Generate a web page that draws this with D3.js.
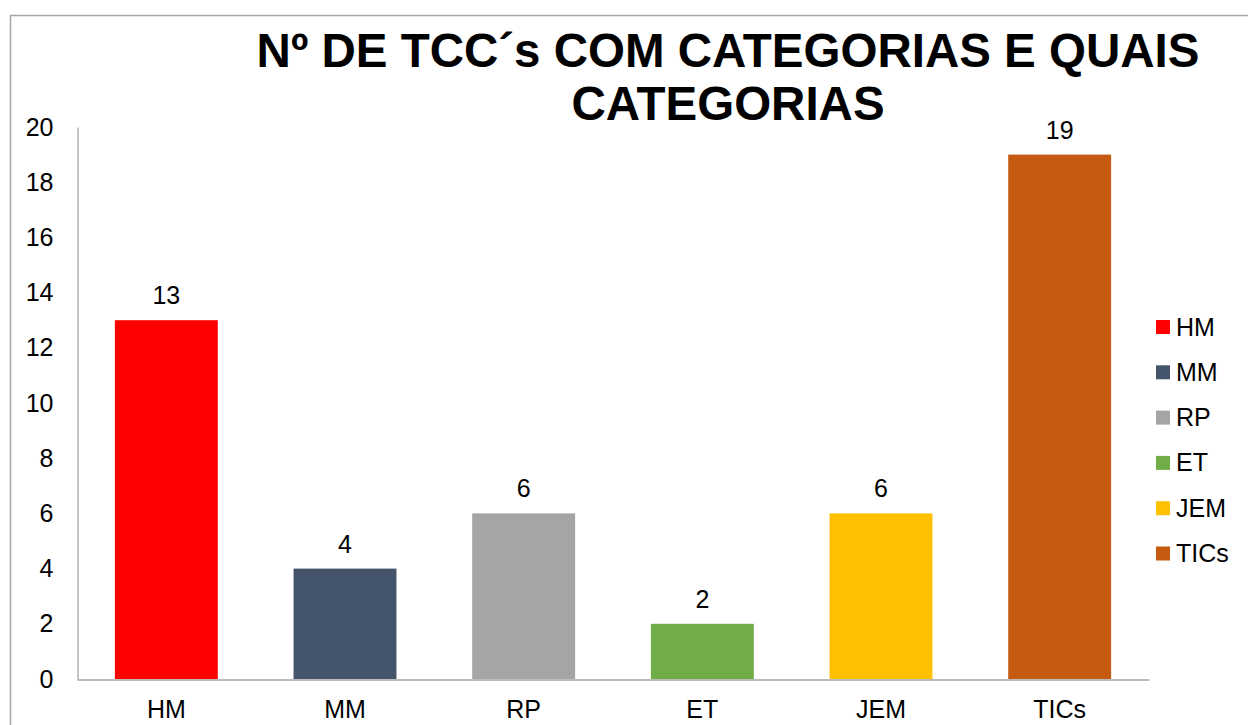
<!DOCTYPE html>
<html>
<head>
<meta charset="utf-8">
<script src="https://cdn.jsdelivr.net/npm/d3@7"></script>
<style>
  body { margin: 0; background: white; }
  text { font-family: "Liberation Sans", Arial, sans-serif; fill: #000; }
</style>
</head>
<body>
<div id="chart"></div>
<script>
// categories and counts of TCCs
const categories = ["HM", "MM", "RP", "ET", "JEM", "TICs"];
const counts = [13, 4, 6, 2, 6, 19];
const colors = ["#ff0000", "#44546a", "#a5a5a5", "#70ad47", "#ffc000", "#c55a11"];
const yTicks = [0, 2, 4, 6, 8, 10, 12, 14, 16, 18, 20];
const titleLines = ["Nº DE TCC´s COM CATEGORIAS E QUAIS", "CATEGORIAS"];

const width = 1248,
    height = 725;

const svg = d3.select("#chart")
    .append("svg")
    .attr("width", width)
    .attr("height", height);

// outer chart border (right and bottom run off the page)
svg.append("rect")
    .attr("x", 10.5)
    .attr("y", 15.5)
    .attr("width", 1260)
    .attr("height", 760)
    .attr("fill", "none")
    .attr("stroke", "#a6a6a6")
    .attr("stroke-width", 1.5);

const x = d3.scaleBand()
    .domain(categories)
    .range([77, 1149])
    .paddingInner(0.424)
    .paddingOuter(0.212);

const y = d3.scaleLinear()
    .domain([0, 20])
    .range([679, 127]);

// title
svg.append("g")
    .selectAll("text")
    .data(titleLines)
    .join("text")
    .attr("x", 728)
    .attr("y", (d, i) => 67 + i * 53)
    .attr("text-anchor", "middle")
    .attr("font-size", "47.5px")
    .attr("font-weight", "bold")
    .text(d => d);

// y axis
const yAxis = svg.append("g")
    .attr("transform", "translate(77.5,0)")
    .call(d3.axisLeft(y).tickValues(yTicks).tickSize(0).tickPadding(24));
yAxis.select(".domain").attr("stroke", "#a6a6a6").attr("stroke-width", 1.3);
yAxis.selectAll("text")
    .attr("font-size", "25px")
    .attr("font-family", "Liberation Sans, Arial, sans-serif")
    .attr("fill", "#000");

// bars
svg.append("g")
    .selectAll("rect")
    .data(categories)
    .join("rect")
    .attr("x", d => x(d))
    .attr("y", (d, i) => y(counts[i]))
    .attr("width", x.bandwidth())
    .attr("height", (d, i) => y(0) - y(counts[i]))
    .attr("fill", (d, i) => colors[i]);

// x axis
const xAxis = svg.append("g")
    .attr("transform", "translate(0,679.5)")
    .call(d3.axisBottom(x).tickSize(0).tickPadding(21));
xAxis.select(".domain").attr("stroke", "#a6a6a6").attr("stroke-width", 1.5);
xAxis.selectAll("text")
    .attr("font-size", "25px")
    .attr("font-family", "Liberation Sans, Arial, sans-serif")
    .attr("fill", "#000");

// value labels
svg.append("g")
    .selectAll("text")
    .data(categories)
    .join("text")
    .attr("x", d => x(d) + x.bandwidth() / 2)
    .attr("y", (d, i) => y(counts[i]) - 16)
    .attr("text-anchor", "middle")
    .attr("font-size", "25px")
    .text((d, i) => counts[i]);

// legend
const legend = svg.append("g")
    .selectAll("g")
    .data(categories)
    .join("g")
    .attr("transform", (d, i) => `translate(1156,${327 + i * 45.3})`);

legend.append("rect")
    .attr("x", 0)
    .attr("y", -7)
    .attr("width", 14)
    .attr("height", 14)
    .attr("fill", (d, i) => colors[i]);

legend.append("text")
    .attr("x", 20)
    .attr("y", 8.5)
    .attr("font-size", "25px")
    .text(d => d);
</script>
</body>
</html>
